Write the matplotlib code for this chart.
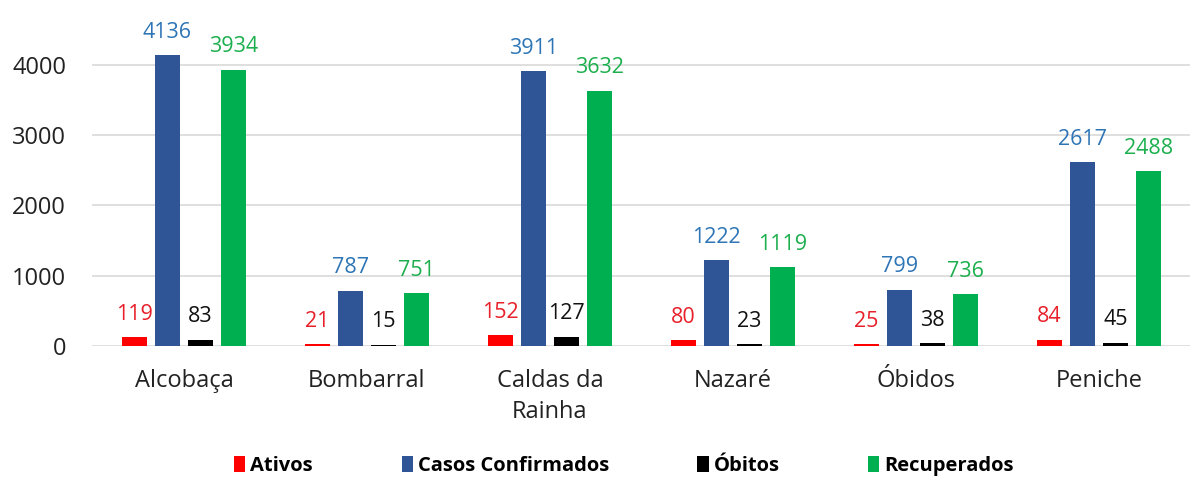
import numpy as np
import matplotlib.pyplot as plt

plt.rcParams['font.family'] = ['Open Sans', 'DejaVu Sans']

concelhos = ["Alcobaça", "Bombarral", "Caldas da\nRainha", "Nazaré", "Óbidos", "Peniche"]
ativos = [119, 21, 152, 80, 25, 84]
confirmados = [4136, 787, 3911, 1222, 799, 2617]
obitos = [83, 15, 127, 23, 38, 45]
recuperados = [3934, 751, 3632, 1119, 736, 2488]

series = [
    ("Ativos", ativos, "#FF0000", "#E8202A"),
    ("Casos Confirmados", confirmados, "#2F5597", "#2E75B6"),
    ("Óbitos", obitos, "#000000", "#111111"),
    ("Recuperados", recuperados, "#00B050", "#1DAF4E"),
]

fig = plt.figure(figsize=(12, 4.99), dpi=100)
ax = fig.add_axes([0.077, 0.307, 0.915, 0.633])

x = np.arange(len(concelhos))
width = 0.137
step = 0.18

for i, (name, vals, col, lab_col) in enumerate(series):
    pos = x + (i - 1.5) * step
    ax.bar(pos, vals, width=width, color=col, label=name, zorder=3)
    for px, v in zip(pos, vals):
        ax.annotate(str(v), (px, v), xytext=(0, 9), textcoords="offset points",
                    ha="center", va="bottom", fontsize=15.5, color=lab_col)

ax.set_xlim(-0.5, len(concelhos) - 0.5)
ax.set_ylim(0, 4500)
ax.set_yticks([0, 1000, 2000, 3000, 4000])
ax.set_xticks(x)
ax.set_xticklabels(concelhos, linespacing=1.35)
ax.tick_params(axis="both", length=0, labelsize=17, colors="#222222")
ax.tick_params(axis="y", pad=19)
ax.tick_params(axis="x", pad=17)
ax.grid(axis="y", color="#D9D9D9", linewidth=1.2, zorder=0)
for s in ax.spines.values():
    s.set_visible(False)

fig.legend(loc="center", bbox_to_anchor=(0.52, 0.066), ncol=4, frameon=False,
           handlelength=0.55, handleheight=0.85, handletextpad=0.25, columnspacing=4.4,
           prop={"weight": "bold", "size": 14.5})

fig.savefig("out.png", dpi=100)
